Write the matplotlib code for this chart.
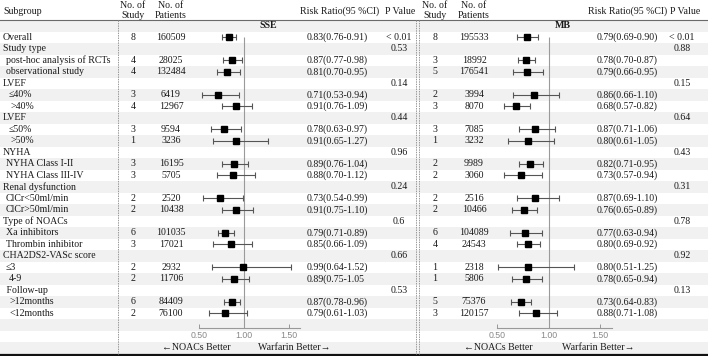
import matplotlib
matplotlib.use("Agg")
import matplotlib.pyplot as plt

plt.rcParams['font.family'] = ['Liberation Serif', 'DejaVu Serif', 'DejaVu Sans']

# ---- data (row 0 of the table is the SSE / MB label row) ----
subgroups = ["Overall", "Study type", "post-hoc analysis of RCTs", "observational study",
             "LVEF", "≤40%", ">40%", "LVEF", "≤50%", ">50%",
             "NYHA", "NYHA Class I-II", "NYHA Class III-IV",
             "Renal dysfunction", "ClCr<50ml/min", "ClCr>50ml/min",
             "Type of NOACs", "Xa inhibitors", "Thrombin inhibitor",
             "CHA2DS2-VASc score", "≤3", "4-9", " Follow-up", ">12months", "<12months"]
indent = [0, 0, 1, 1, 0, 2, 2.5, 0, 2, 2.5, 0, 1, 1, 0, 1, 1, 0, 1, 1, 0, 1, 2, 0.3, 2, 2]

sse_study = [8, None, 4, 4, None, 3, 4, None, 3, 1, None, 3, 3, None, 2, 2, None, 6, 3, None, 2, 2, None, 6, 2]
sse_pts = [160509, None, 28025, 132484, None, 6419, 12967, None, 9594, 3236, None, 16195, 5705,
           None, 2520, 10438, None, 101035, 17021, None, 2932, 11706, None, 84409, 76100]
sse_rr = [0.83, None, 0.87, 0.81, None, 0.71, 0.91, None, 0.78, 0.91, None, 0.89, 0.88,
          None, 0.73, 0.91, None, 0.79, 0.85, None, 0.99, 0.89, None, 0.87, 0.79]
sse_lo = [0.76, None, 0.77, 0.70, None, 0.53, 0.76, None, 0.63, 0.65, None, 0.76, 0.70,
          None, 0.54, 0.75, None, 0.71, 0.66, None, 0.64, 0.75, None, 0.78, 0.61]
sse_hi = [0.91, None, 0.98, 0.95, None, 0.94, 1.09, None, 0.97, 1.27, None, 1.04, 1.12,
          None, 0.99, 1.10, None, 0.89, 1.09, None, 1.52, 1.05, None, 0.96, 1.03]
sse_p = ["< 0.01", "0.53", None, None, "0.14", None, None, "0.44", None, None, "0.96", None, None,
         "0.24", None, None, "0.6", None, None, "0.66", None, None, "0.53", None, None]

mb_study = [8, None, 3, 5, None, 2, 3, None, 3, 1, None, 2, 2, None, 2, 2, None, 6, 4, None, 1, 1, None, 5, 3]
mb_pts = [195533, None, 18992, 176541, None, 3994, 8070, None, 7085, 3232, None, 9989, 3060,
          None, 2516, 10466, None, 104089, 24543, None, 2318, 5806, None, 75376, 120157]
mb_rr = [0.79, None, 0.78, 0.79, None, 0.86, 0.68, None, 0.87, 0.80, None, 0.82, 0.73,
         None, 0.87, 0.76, None, 0.77, 0.80, None, 0.80, 0.78, None, 0.73, 0.88]
mb_lo = [0.69, None, 0.70, 0.66, None, 0.66, 0.57, None, 0.71, 0.61, None, 0.71, 0.57,
         None, 0.69, 0.65, None, 0.63, 0.69, None, 0.51, 0.65, None, 0.64, 0.71]
mb_hi = [0.90, None, 0.87, 0.95, None, 1.10, 0.82, None, 1.06, 1.05, None, 0.95, 0.94,
         None, 1.10, 0.89, None, 0.94, 0.92, None, 1.25, 0.94, None, 0.83, 1.08]
mb_p = ["< 0.01", "0.88", None, None, "0.15", None, None, "0.64", None, None, "0.43", None, None,
        "0.31", None, None, "0.78", None, None, "0.92", None, None, "0.13", None, None]

x_ticks = [0.5, 1.0, 1.5]
x_ticklabels = ["0.50", "1.00", "1.50"]

# ---- layout (pixels) ----
W, H = 708, 356
TOP = 20.0      # header rule
ROW = 11.5      # row height
NROWS = 29
AXIS_Y = 328.0  # forest x-axis line
TXT = dict(fontsize=7.1, color='#1a1a1a', va='center')


def row_y(i):
    return TOP + (i + 0.5) * ROW


fig = plt.figure(figsize=(W / 100, H / 100), dpi=100)
bg = fig.add_axes([0, 0, 1, 1])
bg.set_xlim(0, W)
bg.set_ylim(H, 0)
bg.axis('off')

# zebra stripes
for i in range(0, NROWS, 2):
    bg.axhspan(TOP + i * ROW, TOP + (i + 1) * ROW, color='#f1f1f1', lw=0, zorder=0)

bg.plot([0, W], [TOP, TOP], color='#6a6a6a', lw=0.8)
bg.plot([0, W], [354.5, 354.5], color='#111111', lw=1.6)
bg.plot([118, 118], [TOP, 354], color='#999999', lw=0.7, ls=(0, (1.5, 1)))
for xv in (415.5, 418.5):
    bg.plot([xv, xv], [TOP, 354], color='#999999', lw=0.7, ls=(0, (1.5, 1)))

# header
bg.text(3, 11, "Subgroup", ha='left', **TXT)
panels = [
    dict(name="SSE", study=sse_study, pts=sse_pts, rr=sse_rr, lo=sse_lo, hi=sse_hi, p=sse_p,
         x_study=133, x_pts=171, x_rr=307, x_rrh=300, x_p=399, x_ph=400, x_name=268,
         ax_left=199, ax_w=100.8, x_nb=231, x_wb=258),
    dict(name="MB", study=mb_study, pts=mb_pts, rr=mb_rr, lo=mb_lo, hi=mb_hi, p=mb_p,
         x_study=435, x_pts=474, x_rr=597, x_rrh=588, x_p=682, x_ph=685, x_name=563,
         ax_left=497, ax_w=115.4, x_nb=533, x_wb=562),
]

for i, lab in enumerate(subgroups):
    bg.text(3 + indent[i] * 3, row_y(i + 1), lab, ha='left', **TXT)

for pn in panels:
    bg.text(pn['x_study'], 5.5, "No. of", ha='center', **TXT)
    bg.text(pn['x_study'], 16, "Study", ha='center', **TXT)
    bg.text(pn['x_pts'], 5.5, "No. of", ha='center', **TXT)
    bg.text(pn['x_pts'], 16, "Patients", ha='center', **TXT)
    bg.text(pn['x_rrh'], 11, "Risk Ratio(95 %CI)", ha='left', **TXT)
    bg.text(pn['x_ph'], 11, "P Value", ha='center', **TXT)
    bg.text(pn['x_name'], row_y(0), pn['name'], ha='center', fontweight='bold', **TXT)

    for i in range(len(subgroups)):
        y = row_y(i + 1)
        if pn['study'][i] is not None:
            bg.text(pn['x_study'], y, str(pn['study'][i]), ha='center', **TXT)
            bg.text(pn['x_pts'], y, str(pn['pts'][i]), ha='center', **TXT)
            s = "%.2f(%.2f-%.2f)" % (pn['rr'][i], pn['lo'][i], pn['hi'][i])
            if pn['name'] == "SSE" and subgroups[i] == "4-9":
                s = s.rstrip(")")  # printed without the bracket in the source
            bg.text(pn['x_rr'], y, s, ha='left', **TXT)
        if pn['p'][i] is not None:
            bg.text(pn['x_p'], y, pn['p'][i], ha='center', **TXT)

    bg.text(pn['x_nb'], row_y(28), "←NOACs Better", ha='right', **TXT)
    bg.text(pn['x_wb'], row_y(28), "Warfarin Better→", ha='left', **TXT)

    # forest plot axes, rows in data units
    ax = fig.add_axes([pn['ax_left'] / W, (H - AXIS_Y) / H, pn['ax_w'] / W, (AXIS_Y - TOP) / H])
    ax.set_facecolor('none')
    ax.set_xlim(0.5, 1.62)
    ax.set_ylim((AXIS_Y - TOP) / ROW - 0.5, -0.5)
    for side in ('top', 'left', 'right'):
        ax.spines[side].set_visible(False)
    ax.spines['bottom'].set_color('#999999')
    ax.spines['bottom'].set_linewidth(0.8)
    ax.set_yticks([])
    ax.set_xticks(x_ticks)
    ax.set_xticklabels(x_ticklabels, family='Liberation Sans', fontsize=6.3, color='#888888')
    ax.tick_params(axis='x', direction='in', length=3, width=0.7, color='#999999', pad=2.5)

    ax.vlines(1.0, 1, (AXIS_Y - TOP) / ROW - 0.5, color='#9a9a9a', lw=0.8)
    rows = [i + 1 for i in range(len(subgroups)) if pn['rr'][i] is not None]
    est = [pn['rr'][i - 1] for i in rows]
    err_lo = [pn['rr'][i - 1] - pn['lo'][i - 1] for i in rows]
    err_hi = [pn['hi'][i - 1] - pn['rr'][i - 1] for i in rows]
    ax.errorbar(est, rows, xerr=[err_lo, err_hi], fmt='s', color='black', ms=4.8,
                ecolor='#555555', elinewidth=0.8, capsize=2.2, capthick=0.8, clip_on=False)

fig.savefig("out.png", dpi=100)
